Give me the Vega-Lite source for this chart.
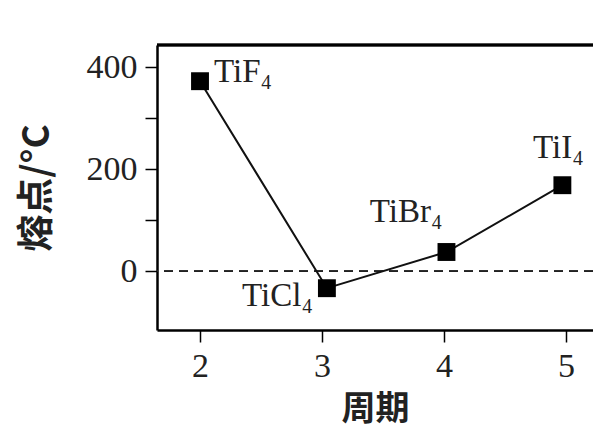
{
  "$schema": "https://vega.github.io/schema/vega-lite/v6.json",
  "width": 436,
  "height": 285,
  "autosize": "none",
  "padding": {"left": 157, "top": 45, "right": 0, "bottom": 100},
  "background": "white",
  "config": {
    "view": {"stroke": null},
    "axis": {
      "domainColor": "black",
      "domainWidth": 2.5,
      "tickColor": "black",
      "tickWidth": 1.5,
      "tickSize": 12,
      "labelFont": "Liberation Serif",
      "labelFontSize": 34,
      "labelColor": "#222",
      "titleFont": "Noto Sans CJK SC",
      "titleFontWeight": "bold",
      "titleColor": "#222",
      "grid": false
    }
  },
  "data": {
    "values": [
      {"period": 2, "mp": 373, "name": "TiF4", "label": "TiF₄"},
      {"period": 3.04, "mp": -33, "name": "TiCl4", "label": "TiCl₄"},
      {"period": 4.02, "mp": 38, "name": "TiBr4", "label": "TiBr₄"},
      {"period": 4.97, "mp": 169, "name": "TiI4", "label": "TiI₄"}
    ]
  },
  "encoding": {
    "x": {
      "field": "period", "type": "quantitative",
      "scale": {"domain": [1.6475, 5.221], "nice": false, "zero": false},
      "axis": {"values": [2, 3, 4, 5], "title": "周期", "titleFontSize": 34, "labelPadding": 7, "titlePadding": 9}
    },
    "y": {
      "field": "mp", "type": "quantitative",
      "scale": {"domain": [-115, 444], "nice": false, "zero": false},
      "axis": {"values": [0, 100, 200, 300, 400], "labelExpr": "datum.value % 200 == 0 ? datum.label : ''", "title": "熔点/°C", "titleFontSize": 37, "labelPadding": 8, "titlePadding": 30}
    }
  },
  "layer": [
    {
      "mark": {"type": "rule", "strokeDash": [9, 6], "strokeWidth": 1.5, "color": "#222"},
      "encoding": {"y": {"datum": 0}, "x": null}
    },
    {
      "mark": {"type": "rule", "strokeWidth": 2.5, "color": "black"},
      "encoding": {"y": {"datum": 444}, "x": null}
    },
    {
      "mark": {"type": "line", "color": "#111", "strokeWidth": 2}
    },
    {
      "mark": {"type": "point", "shape": "square", "filled": true, "color": "#000", "size": 320, "opacity": 1}
    },
    {
      "transform": [{"filter": "datum.name == 'TiF4'"}],
      "mark": {"type": "text", "font": "Liberation Serif", "fontSize": 33, "align": "left", "baseline": "alphabetic", "dx": 14, "dy": 1, "color": "#222"},
      "encoding": {"text": {"field": "label"}}
    },
    {
      "transform": [{"filter": "datum.name == 'TiCl4'"}],
      "mark": {"type": "text", "font": "Liberation Serif", "fontSize": 33, "align": "right", "baseline": "alphabetic", "dx": -14, "dy": 18, "color": "#222"},
      "encoding": {"text": {"field": "label"}}
    },
    {
      "transform": [{"filter": "datum.name == 'TiBr4'"}],
      "mark": {"type": "text", "font": "Liberation Serif", "fontSize": 33, "align": "right", "baseline": "alphabetic", "dx": -4, "dy": -30, "color": "#222"},
      "encoding": {"text": {"field": "label"}}
    },
    {
      "transform": [{"filter": "datum.name == 'TiI4'"}],
      "mark": {"type": "text", "font": "Liberation Serif", "fontSize": 33, "align": "center", "baseline": "alphabetic", "dx": -4, "dy": -27, "color": "#222"},
      "encoding": {"text": {"field": "label"}}
    }
  ]
}
